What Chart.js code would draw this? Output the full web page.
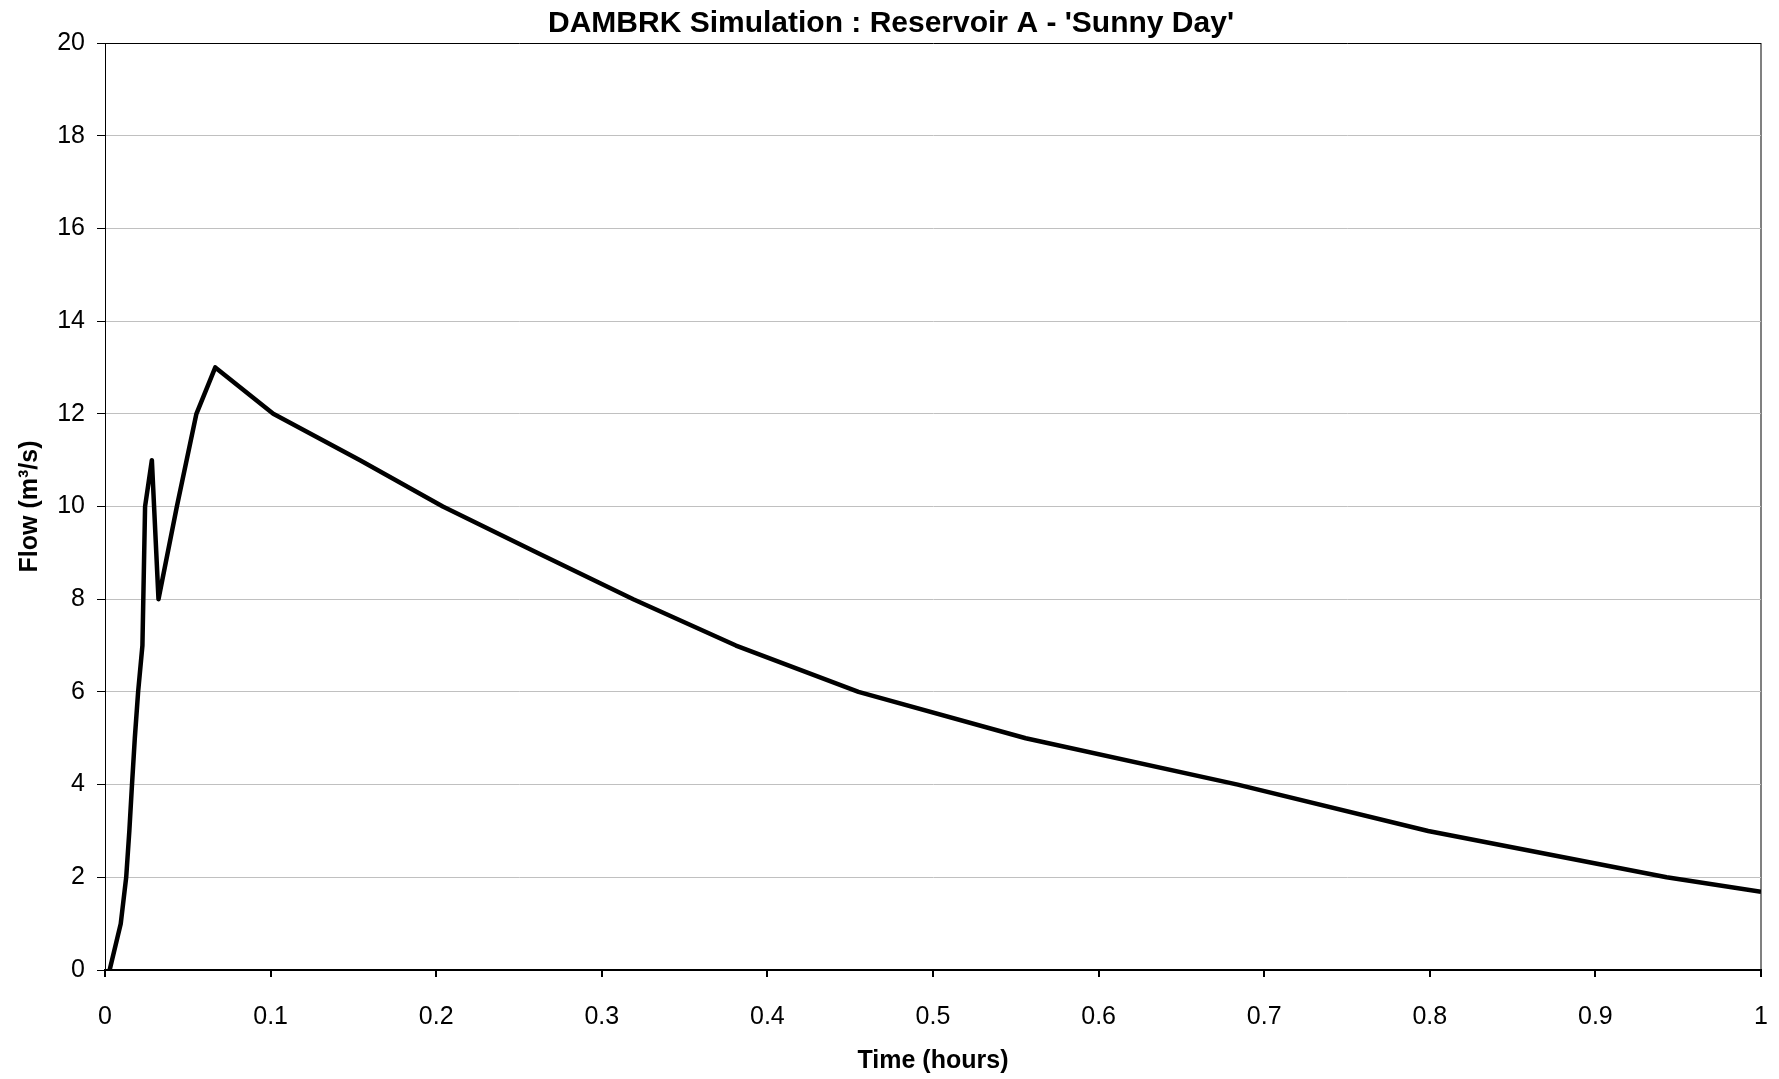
<!DOCTYPE html>
<html>
<head>
<meta charset="utf-8">
<title>DAMBRK Simulation</title>
<script src="https://cdn.jsdelivr.net/npm/chart.js@4.4.1/dist/chart.umd.min.js"></script>
<style>
  html, body { margin: 0; padding: 0; background: #fff; }
  #wrap { width: 1779px; height: 1079px; }
</style>
</head>
<body>
<div id="wrap"><canvas id="chart" width="1779" height="1079"></canvas></div>
<script>
// time in hours, flow in m3/s
const times = [0.0028, 0.0095, 0.0128, 0.0147, 0.0163, 0.0180, 0.0200, 0.0226, 0.0242,
  0.0283, 0.0323, 0.0434, 0.0552, 0.0666, 0.1016, 0.154, 0.204, 0.261, 0.319, 0.381, 0.455, 0.556,
  0.684, 0.799, 0.943, 1.0];
const flows = [0, 1, 2, 3, 4, 5, 6, 7, 10,
  11, 8, 10, 12, 13, 12, 11, 10, 9, 8, 7, 6, 5,
  4, 3, 2, 1.69];

const xTicks = [0, 0.1, 0.2, 0.3, 0.4, 0.5, 0.6, 0.7, 0.8, 0.9, 1];
const yTicks = [0, 2, 4, 6, 8, 10, 12, 14, 16, 18, 20];

const FONT = "'Liberation Sans', Arial, sans-serif";
const PAD_LEFT = 21;

const points = times.map((t, i) => ({ x: t, y: flows[i] }));

const chartConfig = {
  type: 'line',
  data: {
    datasets: [{
      data: points,
      borderColor: '#000',
      borderWidth: 4.5,
      borderJoinStyle: 'round',
      fill: false,
      tension: 0,
      pointRadius: 0,
      pointHoverRadius: 0
    }]
  },
  options: {
    responsive: false,
    animation: false,
    layout: { padding: { left: PAD_LEFT, right: 18, top: 0, bottom: 0 } },
    plugins: {
      legend: { display: false },
      tooltip: { enabled: false },
      title: {
        display: true,
        text: "DAMBRK Simulation : Reservoir A - 'Sunny Day'",
        color: '#000',
        font: { family: FONT, size: 30, weight: 'bold' },
        padding: { top: 5.5, bottom: 1.5 }
      }
    },
    scales: {
      x: {
        type: 'linear',
        min: 0,
        max: 1,
        afterBuildTicks: (scale) => { scale.ticks = xTicks.map(v => ({ value: v })); },
        afterFit: (scale) => {
          scale.height = 109;
          scale.paddingLeft = 0;
          scale.paddingRight = 0;
        },
        ticks: {
          color: '#000',
          font: { family: FONT, size: 25 },
          padding: 25,
          maxRotation: 0,
          callback: (v) => String(Number(v.toFixed(1)))
        },
        grid: {
          color: (ctx) => (ctx.tick && ctx.tick.value === 1 ? '#808080' : 'rgba(0,0,0,0)'),
          lineWidth: 2,
          tickColor: '#000',
          tickLength: 7
        },
        border: { color: '#000', width: 2 },
        title: {
          display: true,
          text: 'Time (hours)',
          color: '#000',
          font: { family: FONT, size: 25, weight: 'bold' },
          padding: { top: 0, bottom: 3 }
        }
      },
      y: {
        min: 0,
        max: 20,
        afterBuildTicks: (scale) => { scale.ticks = yTicks.map(v => ({ value: v })); },
        afterFit: (scale) => { scale.width = 105 - PAD_LEFT; },
        ticks: {
          color: '#000',
          font: { family: FONT, size: 25 },
          padding: 12
        },
        grid: {
          color: (ctx) => (ctx.tick && ctx.tick.value === 20 ? '#000' : '#c0c0c0'),
          lineWidth: 1,
          tickColor: '#000',
          tickLength: 8
        },
        border: { color: '#000', width: 1 },
        title: {
          display: true,
          text: 'Flow (m³/s)',
          color: '#000',
          font: { family: FONT, size: 25, weight: 'bold' },
          padding: { top: 15 - PAD_LEFT, bottom: 0 }
        }
      }
    }
  }
};

const chartInstance = new Chart(document.getElementById('chart'), chartConfig);
</script>
</body>
</html>
